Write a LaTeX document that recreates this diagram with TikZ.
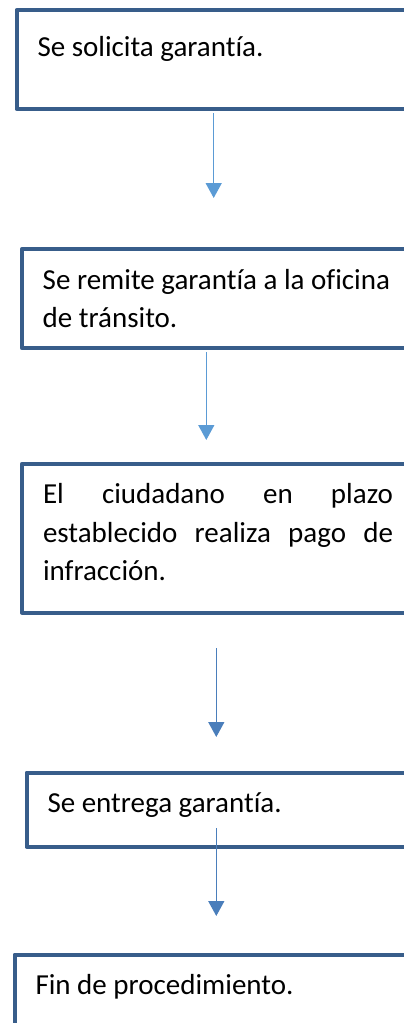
\documentclass[tikz,border=0pt]{standalone}
\usepackage{fontspec}
\setmainfont{Carlito}[Ligatures={NoCommon}]
\usetikzlibrary{arrows.meta}
\definecolor{borde}{HTML}{385D8A}
\definecolor{flechaclara}{HTML}{5B9BD5}
\definecolor{flechaoscura}{HTML}{4A7EBB}
\newcommand{\pasotexto}[2]{\parbox[t][#1][t]{350pt}{\strut#2}} % text block, fixed height, top aligned

\begin{document}
\begin{tikzpicture}[x=1pt,y=-1pt,
    paso/.style={draw=borde,line width=4pt,line join=round,fill=white,anchor=north west,
        inner xsep=21pt,inner ysep=13pt,font=\fontsize{29}{38.5}\selectfont},
    flecha/.style={draw=flechaclara,line width=1.5pt,-{Triangle[width=16pt,length=15pt]}}]
    \useasboundingbox (0,0) rectangle (404,1023);
    \clip (0,0) rectangle (404,1023); % boxes run off the right edge

    \node[paso,inner ysep=20pt] (b1) at (14.5,8) {\pasotexto{59pt}{Se solicita garantía.}};
    \node[paso] (b2) at (19.7,247.2) {\pasotexto{72.8pt}{\raggedright Se remite garantía a la oficina\\ de tránsito.}};
    \node[paso] (b3) at (20,461.7) {\pasotexto{122.8pt}{El ciudadano en plazo\linebreak establecido realiza pago de\linebreak infracción.}};
    \node[paso] (b4) at (24.5,770.5) {\pasotexto{48.2pt}{Se entrega garantía.}};
    \node[paso] (b5) at (12.5,952.5) {\pasotexto{61.5pt}{Fin de procedimiento.}};

    % arrow ends
    \coordinate (p1) at (213.7,198);
    \coordinate (i2) at (206.3,352);
    \coordinate (p2) at (206.3,440);
    \coordinate (i3) at (216.3,648);
    \coordinate (p3) at (216.3,737);
    \coordinate (i4) at (216.3,828);
    \coordinate (p4) at (216.3,916);

    \draw[flecha,shorten <=2pt] (b1.south -| p1) -- (p1);
    \draw[flecha] (i2) -- (p2);
    \draw[flecha,draw=flechaoscura] (i3) -- (p3);
    \draw[flecha,draw=flechaoscura] (i4) -- (p4); % starts inside the box above
\end{tikzpicture}
\end{document}
